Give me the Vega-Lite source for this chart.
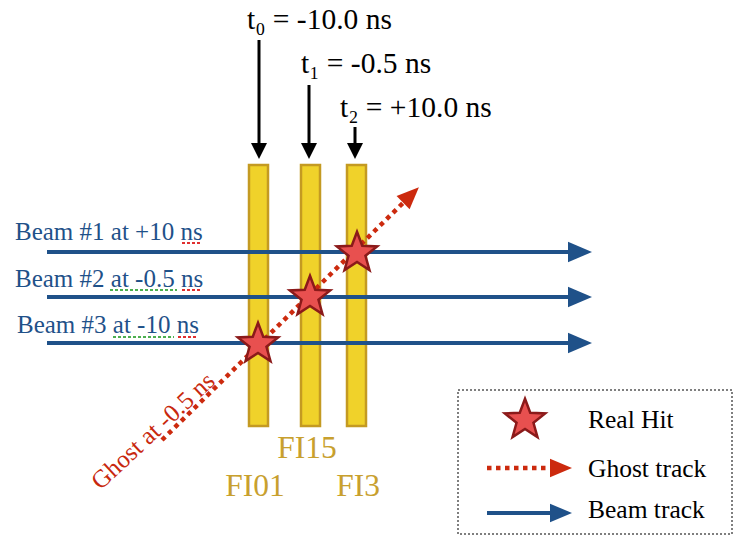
{
  "$schema": "https://vega.github.io/schema/vega-lite/v6.json",
  "width": 734,
  "height": 536,
  "padding": 0,
  "autosize": {"type": "none"},
  "background": "white",
  "config": {"view": {"stroke": null}},
  "datasets": {
    "detectors": [
      {"name": "FI01", "x": 249, "x2": 268, "y": 165, "y2": 426},
      {"name": "FI15", "x": 301, "x2": 320, "y": 165, "y2": 426},
      {"name": "FI3", "x": 347, "x2": 366, "y": 165, "y2": 426}
    ],
    "beams": [
      {"beam": "#1", "x": 47, "x2": 572, "y": 252},
      {"beam": "#2", "x": 47, "x2": 572, "y": 297},
      {"beam": "#3", "x": 47, "x2": 572, "y": 343}
    ],
    "beamHeads": [
      {"beam": "#1", "x": 580, "y": 252},
      {"beam": "#2", "x": 580, "y": 297},
      {"beam": "#3", "x": 580, "y": 343}
    ],
    "ghost": [{"x": 162, "y": 440, "x2": 404, "y2": 202}],
    "ghostHead": [{"x": 411, "y": 195}],
    "timeArrows": [
      {"t": "t0", "x": 259, "y": 40, "y2": 148},
      {"t": "t1", "x": 309, "y": 85, "y2": 148},
      {"t": "t2", "x": 355, "y": 127, "y2": 148}
    ],
    "timeHeads": [
      {"t": "t0", "x": 259, "y": 151},
      {"t": "t1", "x": 309, "y": 151},
      {"t": "t2", "x": 355, "y": 151}
    ],
    "stars": [
      {"hit": "FI01", "x": 258, "y": 344},
      {"hit": "FI15", "x": 310, "y": 297},
      {"hit": "FI3", "x": 357, "y": 253}
    ],
    "timeLabels": [
      {"x": 247, "y": 29, "text": "t₀ = -10.0 ns"},
      {"x": 301, "y": 73, "text": "t₁ = -0.5 ns"},
      {"x": 340, "y": 117, "text": "t₂ = +10.0 ns"}
    ],
    "beamLabels": [
      {"x": 15, "y": 240, "text": "Beam #1 at +10 ns"},
      {"x": 15, "y": 287, "text": "Beam #2 at -0.5 ns"},
      {"x": 17, "y": 333, "text": "Beam #3 at -10 ns"}
    ],
    "redUnder": [
      {"x": 182, "x2": 202, "y": 243},
      {"x": 182, "x2": 202, "y": 290},
      {"x": 178, "x2": 198, "y": 337}
    ],
    "greenUnder": [
      {"x": 110, "x2": 177, "y": 290},
      {"x": 113, "x2": 174, "y": 337}
    ],
    "detLabels": [
      {"x": 255, "y": 496, "text": "FI01"},
      {"x": 307, "y": 458, "text": "FI15"},
      {"x": 358, "y": 496, "text": "FI3"}
    ],
    "ghostLabel": [{"x": 153, "y": 431, "text": "Ghost at -0.5 ns"}],
    "legendBox": [{"x": 458, "x2": 732, "y": 390, "y2": 534}],
    "legendStar": [{"x": 525, "y": 420}],
    "legendGhost": [{"x": 487, "x2": 552, "y": 468}],
    "legendGhostHead": [{"x": 561, "y": 468}],
    "legendBeam": [{"x": 487, "x2": 554, "y": 513}],
    "legendBeamHead": [{"x": 561, "y": 513}],
    "legendLabels": [
      {"x": 588, "y": 428, "text": "Real Hit"},
      {"x": 588, "y": 477, "text": "Ghost track"},
      {"x": 588, "y": 518, "text": "Beam track"}
    ]
  },
  "encoding": {
    "x": {"field": "x", "type": "quantitative", "scale": {"domain": [0, 734], "nice": false, "zero": false}, "axis": null},
    "y": {"field": "y", "type": "quantitative", "scale": {"domain": [0, 536], "nice": false, "zero": false, "reverse": true}, "axis": null}
  },
  "layer": [
    {
      "data": {"name": "legendBox"},
      "mark": {"type": "rect", "fill": "white", "stroke": "#555555", "strokeWidth": 1.5, "strokeDash": [2, 2]},
      "encoding": {"x2": {"field": "x2"}, "y2": {"field": "y2"}}
    },
    {
      "data": {"name": "detectors"},
      "mark": {"type": "rect", "fill": "#F0D22A", "stroke": "#C49A22", "strokeWidth": 2.5},
      "encoding": {"x2": {"field": "x2"}, "y2": {"field": "y2"}}
    },
    {
      "data": {"name": "beams"},
      "mark": {"type": "rule", "color": "#1F5189", "strokeWidth": 4},
      "encoding": {"x2": {"field": "x2"}}
    },
    {
      "data": {"name": "beamHeads"},
      "mark": {"type": "point", "shape": "M-1,-0.85L1,0L-1,0.85Z", "size": 576, "filled": true, "color": "#1F5189", "opacity": 1}
    },
    {
      "data": {"name": "ghost"},
      "mark": {"type": "rule", "color": "#CC2A0E", "strokeWidth": 4.5, "strokeDash": [4.5, 4.5]},
      "encoding": {"x2": {"field": "x2"}, "y2": {"field": "y2"}}
    },
    {
      "data": {"name": "ghostHead"},
      "mark": {"type": "point", "shape": "M-1,-0.85L1,0L-1,0.85Z", "size": 484, "angle": 316, "filled": true, "color": "#CC2A0E", "opacity": 1}
    },
    {
      "data": {"name": "timeArrows"},
      "mark": {"type": "rule", "color": "black", "strokeWidth": 3},
      "encoding": {"y2": {"field": "y2"}}
    },
    {
      "data": {"name": "timeHeads"},
      "mark": {"type": "point", "shape": "M-1,-1L1,0L-1,1Z", "size": 256, "angle": 90, "filled": true, "color": "black", "opacity": 1}
    },
    {
      "data": {"name": "stars"},
      "mark": {"type": "point", "shape": "M0,-1L0.247,-0.34L0.951,-0.309L0.399,0.13L0.588,0.809L0,0.42L-0.588,0.809L-0.399,0.13L-0.951,-0.309L-0.247,-0.34Z", "size": 1800, "filled": true, "fill": "#E8504F", "stroke": "#8B1A1A", "strokeWidth": 2.5, "opacity": 1}
    },
    {
      "data": {"name": "timeLabels"},
      "mark": {"type": "text", "font": "Liberation Serif", "align": "left", "baseline": "alphabetic", "fontSize": 29.5, "color": "black"},
      "encoding": {"text": {"field": "text"}}
    },
    {
      "data": {"name": "beamLabels"},
      "mark": {"type": "text", "font": "Liberation Serif", "align": "left", "baseline": "alphabetic", "fontSize": 25, "color": "#1F5189"},
      "encoding": {"text": {"field": "text"}}
    },
    {
      "data": {"name": "redUnder"},
      "mark": {"type": "rule", "color": "#E03030", "strokeWidth": 2, "strokeDash": [3, 2]},
      "encoding": {"x2": {"field": "x2"}}
    },
    {
      "data": {"name": "greenUnder"},
      "mark": {"type": "rule", "color": "#4CAF50", "strokeWidth": 2, "strokeDash": [3, 2]},
      "encoding": {"x2": {"field": "x2"}}
    },
    {
      "data": {"name": "detLabels"},
      "mark": {"type": "text", "font": "Liberation Serif", "align": "center", "baseline": "alphabetic", "fontSize": 31.5, "color": "#C8A02E"},
      "encoding": {"text": {"field": "text"}}
    },
    {
      "data": {"name": "ghostLabel"},
      "mark": {"type": "text", "font": "Liberation Serif", "align": "center", "baseline": "middle", "fontSize": 25, "angle": 317, "color": "#C8280E"},
      "encoding": {"text": {"field": "text"}}
    },
    {
      "data": {"name": "legendStar"},
      "mark": {"type": "point", "shape": "M0,-1L0.247,-0.34L0.951,-0.309L0.399,0.13L0.588,0.809L0,0.42L-0.588,0.809L-0.399,0.13L-0.951,-0.309L-0.247,-0.34Z", "size": 1800, "filled": true, "fill": "#E8504F", "stroke": "#8B1A1A", "strokeWidth": 2.5, "opacity": 1}
    },
    {
      "data": {"name": "legendGhost"},
      "mark": {"type": "rule", "color": "#CC2A0E", "strokeWidth": 4.5, "strokeDash": [4.5, 4.5]},
      "encoding": {"x2": {"field": "x2"}}
    },
    {
      "data": {"name": "legendGhostHead"},
      "mark": {"type": "point", "shape": "M-1,-0.85L1,0L-1,0.85Z", "size": 484, "filled": true, "color": "#CC2A0E", "opacity": 1}
    },
    {
      "data": {"name": "legendBeam"},
      "mark": {"type": "rule", "color": "#1F5189", "strokeWidth": 4},
      "encoding": {"x2": {"field": "x2"}}
    },
    {
      "data": {"name": "legendBeamHead"},
      "mark": {"type": "point", "shape": "M-1,-0.85L1,0L-1,0.85Z", "size": 484, "filled": true, "color": "#1F5189", "opacity": 1}
    },
    {
      "data": {"name": "legendLabels"},
      "mark": {"type": "text", "font": "Liberation Serif", "align": "left", "baseline": "alphabetic", "fontSize": 25.5, "color": "black"},
      "encoding": {"text": {"field": "text"}}
    }
  ]
}
